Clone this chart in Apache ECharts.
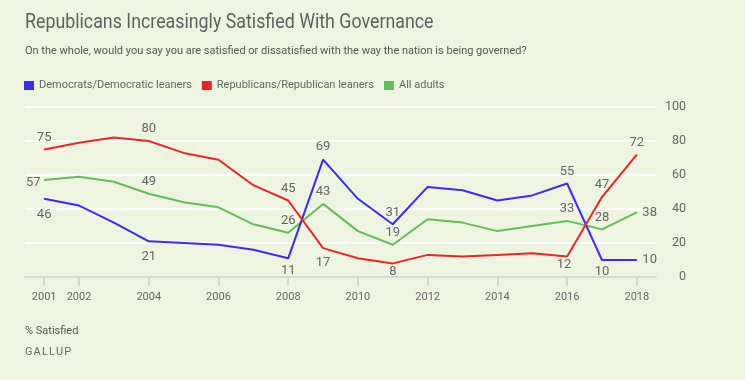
<!DOCTYPE html>
<html>
<head>
<meta charset="utf-8">
<script src="https://cdn.jsdelivr.net/npm/echarts@6/dist/echarts.min.js"></script>
<style>
html,body{margin:0;padding:0;background:#edf4e0;}
#c{width:745px;height:380px;}
</style>
</head>
<body>
<div id="c"></div>
<script>
const years = [2001,2002,2003,2004,2005,2006,2007,2008,2009,2010,2011,2012,2013,2014,2015,2016,2017,2018];
const democrats = [46,42,32,21,20,19,16,11,69,46,31,53,51,45,48,55,10,10];
const republicans = [75,79,82,80,73,69,54,45,17,11,8,13,12,13,14,12,47,72];
const allAdults = [57,59,56,49,44,41,31,26,43,27,19,34,32,27,30,33,28,38];
const xTickYears = [2001,2002,2004,2006,2008,2010,2012,2014,2016,2018];
const yTicks = [0,20,40,60,80,100];
const labeledYears = [2001,2004,2008,2009,2011,2016,2017,2018];

const FONT = 'Roboto, sans-serif';
const TXT = '#666666';

// label placement per series (style only)
const demPos = {2001:'bottom',2004:'bottom',2008:'bottom',2009:'top',2011:'top',2016:'top',2017:'bottom',2018:'right'};
const repPos = {2001:'top',2004:'top',2008:'top',2009:'bottom',2011:'bottom',2016:'bottom',2017:'top',2018:'top'};
const allPos = {2001:'left',2004:'top',2008:'top',2009:'top',2011:'top',2016:'top',2017:'top',2018:'right'};
const extraOffset = {
  dem:{2001:[0,4],2004:[0,3],2009:[0,-1]},
  rep:{2016:[-3,-4],2011:[0,-4],2009:[0,3]},
  all:{2001:[2,3]}
};

function build(values, posMap, key){
  return years.map((y,i)=>{
    const d = {value:[y, values[i]]};
    if (labeledYears.indexOf(y) >= 0){
      d.label = {show:true, position:posMap[y], distance:5,
        offset:(extraOffset[key][y]||[0,0]),
        color:TXT, fontSize:13, fontFamily:FONT};
    } else {
      d.label = {show:false};
    }
    return d;
  });
}

const chart = echarts.init(document.getElementById('c'), null, {renderer:'canvas'});
chart.setOption({
  backgroundColor:'#edf4e0',
  animation:false,
  graphic:[
    {type:'text', left:25, top:13, scaleX:0.89, style:{text:'Republicans Increasingly Satisfied With Governance',
      font:'normal 20px Roboto, sans-serif', fill:'#5f5f5f'}},
    {type:'text', left:25, top:46, style:{text:'On the whole, would you say you are satisfied or dissatisfied with the way the nation is being governed?',
      font:'normal 11px Roboto, sans-serif', fill:'#555555'}},
    {type:'text', left:25, top:326, style:{text:'% Satisfied', font:'normal 11px Roboto, sans-serif', fill:'#555555'}},
    {type:'text', left:25, top:347, style:{text:'G\u200aA\u200aL\u200aL\u200aU\u200aP', font:'normal 11px Roboto, sans-serif', fill:'#666666'}}
  ],
  legend:{
    left:24, top:80, padding:0, icon:'rect', itemWidth:10, itemHeight:9, itemGap:10,
    textStyle:{fontFamily:FONT, fontSize:11, color:'#666666'},
    data:['Democrats/Democratic leaners','Republicans/Republican leaners','All adults']
  },
  grid:{left:25, right:89, top:107, bottom:103, containLabel:false},
  xAxis:{
    type:'value', min:2000.45, max:2018.55,
    axisLine:{show:true, lineStyle:{color:'#d8d8d8', width:2}},
    axisTick:{show:true, customValues:xTickYears, length:9, lineStyle:{color:'#d8d8d8', width:2}},
    axisLabel:{customValues:xTickYears, color:TXT, fontSize:11, fontFamily:FONT, margin:15, formatter:v=>String(v)},
    splitLine:{show:false}
  },
  yAxis:{
    type:'value', position:'right', min:0, max:100, interval:20,
    axisLine:{show:false}, axisTick:{show:false},
    axisLabel:{color:TXT, fontSize:12.5, fontFamily:FONT, align:'right', margin:30,
      customValues:yTicks},
    splitLine:{show:true, lineStyle:{color:'#ffffff', width:2}}
  },
  series:[
    {name:'Democrats/Democratic leaners', type:'line', data:build(democrats, demPos, 'dem'),
     color:'#3a2cf2', lineStyle:{width:2}, symbol:'circle', symbolSize:1, showSymbol:true, showAllSymbol:true, z:3},
    {name:'Republicans/Republican leaners', type:'line', data:build(republicans, repPos, 'rep'),
     color:'#ec2528', lineStyle:{width:2}, symbol:'circle', symbolSize:1, showSymbol:true, showAllSymbol:true, z:3},
    {name:'All adults', type:'line', data:build(allAdults, allPos, 'all'),
     color:'#62be56', lineStyle:{width:2}, symbol:'circle', symbolSize:1, showSymbol:true, showAllSymbol:true, z:2}
  ]
});
</script>
</body>
</html>
